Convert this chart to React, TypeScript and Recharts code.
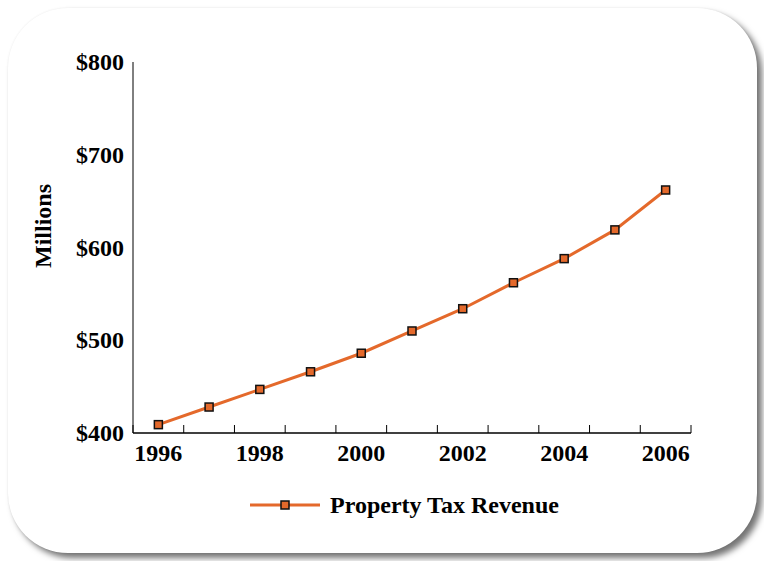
import { LineChart, Line, XAxis, YAxis, Legend } from "recharts";

const years = [1996, 1997, 1998, 1999, 2000, 2001, 2002, 2003, 2004, 2005, 2006];
const revenue = [409, 428, 447, 466, 486, 510, 534, 562, 588, 619, 662];
const yTicks = [400, 500, 600, 700, 800];
const yearLabels = [1996, 1998, 2000, 2002, 2004, 2006];
const bandEdges = [1995.5, 1996.5, 1997.5, 1998.5, 1999.5, 2000.5, 2001.5, 2002.5, 2003.5, 2004.5, 2005.5, 2006.5];

const data = years.map((y, i) => ({ year: y, value: revenue[i] }));

const FONT = "'Liberation Serif', 'DejaVu Serif', serif";
const ORANGE = "#E4692B";

function SquareDot(props: any) {
  const { cx, cy } = props;
  if (cx == null || cy == null) return null;
  return <rect x={cx - 4} y={cy - 4} width={8} height={8} fill={ORANGE} stroke="#111" strokeWidth={1.5} />;
}

function YTick(props: any) {
  const { x, y, payload } = props;
  return (
    <text x={x - 1} y={y + 8} textAnchor="end" fontFamily={FONT} fontWeight="bold" fontSize={24} fill="#000">
      ${payload.value}
    </text>
  );
}

function XTick(props: any) {
  const { x, y, payload } = props;
  return (
    <text x={x} y={y + 26} textAnchor="middle" fontFamily={FONT} fontWeight="bold" fontSize={24} fill="#000">
      {payload.value}
    </text>
  );
}

function YLabel() {
  return (
    <text
      x={51}
      y={226}
      transform="rotate(-90, 51, 226)"
      textAnchor="middle"
      fontFamily={FONT}
      fontWeight="bold"
      fontSize={24}
      fill="#000"
    >
      Millions
    </text>
  );
}

function LegendContent() {
  return (
    <svg width={764} height={40}>
      <line x1={250} y1={17} x2={320} y2={17} stroke={ORANGE} strokeWidth={3} />
      <rect x={281} y={13} width={8} height={8} fill={ORANGE} stroke="#111" strokeWidth={1.5} />
      <text x={330} y={25} fontFamily={FONT} fontWeight="bold" fontSize={24} fill="#000">
        Property Tax Revenue
      </text>
    </svg>
  );
}

export default function App() {
  return (
    <div style={{ position: "absolute", left: 0, top: 0, width: 764, height: 561, background: "#fff" }}>
      <div
        style={{
          position: "absolute",
          left: 8,
          top: 8,
          width: 749,
          height: 545,
          borderRadius: 60,
          background: "#fff",
          boxShadow: "5px 5px 6px rgba(0,0,0,0.55), 0 0 2px rgba(0,0,0,0.08)",
        }}
      />
      <div style={{ position: "absolute", left: 0, top: 0 }}>
        <LineChart width={764} height={561} data={data} margin={{ top: 62, right: 73, left: 73, bottom: 98 }}>
          <XAxis
            xAxisId="edges"
            dataKey="year"
            type="number"
            domain={[1995.5, 2006.5]}
            ticks={bandEdges}
            interval={0}
            mirror
            tickSize={8}
            tick={() => <g />}
            tickLine={{ stroke: "#000", strokeWidth: 1 }}
            axisLine={{ stroke: "#000", strokeWidth: 1.5 }}
          />
          <XAxis
            xAxisId="labels"
            dataKey="year"
            type="number"
            domain={[1995.5, 2006.5]}
            ticks={yearLabels}
            interval={0}
            height={30}
            tickSize={0}
            tickLine={false}
            axisLine={false}
            tick={<XTick />}
          />
          <YAxis
            domain={[400, 800]}
            ticks={yTicks}
            interval={0}
            width={60}
            tickLine={false}
            axisLine={{ stroke: "#000", strokeWidth: 1 }}
            tick={<YTick />}
            label={{ content: () => <YLabel /> }}
          />
          <Legend
            layout="horizontal"
            verticalAlign="middle"
            content={<LegendContent />}
            wrapperStyle={{ top: 488, left: 0, width: 764, height: 40 }}
          />
          <Line
            xAxisId="edges"
            dataKey="value"
            name="Property Tax Revenue"
            stroke={ORANGE}
            strokeWidth={3}
            dot={<SquareDot />}
            activeDot={false}
            isAnimationActive={false}
          />
        </LineChart>
      </div>
    </div>
  );
}
